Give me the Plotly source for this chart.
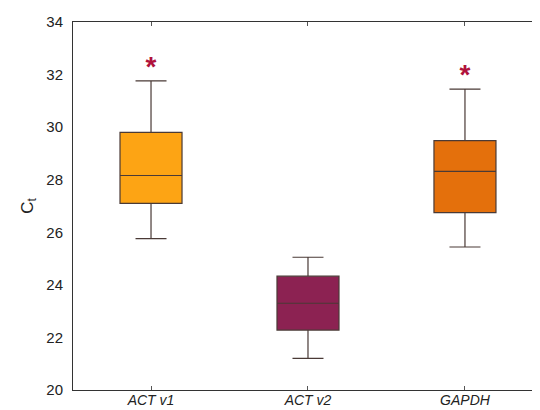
import plotly.graph_objects as go

categories = ["ACT v1", "ACT v2", "GAPDH"]
lower_whisker = [25.76, 21.2, 25.44]
q1_vals = [27.1, 22.28, 26.75]
medians = [28.16, 23.3, 28.32]
q3_vals = [29.8, 24.33, 29.49]
upper_whisker = [31.76, 25.05, 31.45]
star_cats = ["ACT v1", "GAPDH"]
star_y = [32.2, 31.9]
fill_colors = ["#FDA414", "#8C2252", "#E4700C"]
y_ticks = [20, 22, 24, 26, 28, 30, 32, 34]

fig = go.Figure()
for i, c in enumerate(categories):
    fig.add_trace(go.Box(
        x=[c], q1=[q1_vals[i]], median=[medians[i]], q3=[q3_vals[i]],
        lowerfence=[lower_whisker[i]], upperfence=[upper_whisker[i]],
        fillcolor=fill_colors[i], line=dict(color="#4a3a36", width=1.2),
        width=0.395, whiskerwidth=0.5, boxpoints=False, showlegend=False,
        hoverinfo="skip"))

fig.add_trace(go.Scatter(
    x=star_cats, y=star_y, mode="text", text=["*"] * len(star_cats),
    textfont=dict(family="Liberation Sans, Arial", size=28, color="#B0123C",
                  weight="bold"),
    textposition="middle center", showlegend=False, hoverinfo="skip"))

fig.update_layout(
    width=540, height=410,
    margin=dict(l=65, r=8, t=14, b=28),
    plot_bgcolor="white", paper_bgcolor="white",
    font=dict(family="Liberation Sans, Arial", size=15, color="#222"),
    xaxis=dict(type="category", categoryorder="array", categoryarray=categories,
               range=[-0.497, 2.478], showline=True, linecolor="#333", linewidth=1,
               mirror="ticks", ticks="inside", ticklen=4, tickcolor="#555",
               showgrid=False, zeroline=False, automargin=False,
               ticklabelstandoff=-3,
               tickfont=dict(family="Liberation Sans, Arial", size=14, style="italic")),
    yaxis=dict(range=[20, 34], tickvals=y_ticks, showline=True, linecolor="#333",
               linewidth=1, mirror=False, ticks="", showgrid=False, zeroline=False,
               ticklabelstandoff=6, automargin=False,
               title=dict(text="C<sub>t</sub>", standoff=8,
                          font=dict(size=17))),
)

fig.write_html("out.html")
